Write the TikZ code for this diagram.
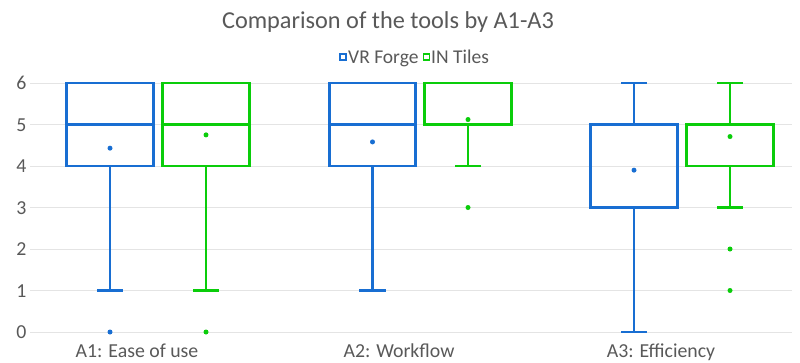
\documentclass[tikz,border=0pt]{standalone}
\usepackage{fontspec}
\setmainfont{Carlito}
\definecolor{vrblue}{RGB}{24,110,210}
\definecolor{ingreen}{RGB}{10,205,10}
\definecolor{gridgray}{RGB}{228,228,228}
\definecolor{txtgray}{RGB}{89,89,89}
\tikzset{
  bx/.style={line width=2.7pt, line cap=rect},
  gridline/.style={draw=gridgray, line width=1pt},
  ticklab/.style={anchor=base east, text=txtgray, font=\fontsize{19.8}{21}\selectfont, inner sep=0pt, yshift=-6.5pt},
  catlab/.style={anchor=base, text=txtgray, font=\fontsize{19.8}{21}\selectfont, inner sep=0pt},
  legtxt/.style={anchor=base west, text=txtgray, font=\fontsize{19.5}{21}\selectfont, inner sep=0pt},
  legsq/.style={draw=#1, fill=white, line width=1.6pt, minimum size=6pt, inner sep=0pt},
}
% center, color, low whisker, q1, median, q3, high whisker, mean
\newcommand\myboxplot[8]{%
  \draw[bx,#2] (#1-43.3,#4) rectangle (#1+43.3,#6);
  \draw[bx,#2] (#1-43.3,#5) -- (#1+43.3,#5);
  \draw[bx,#2] (#1,#4) -- (#1,#3) (#1-11.7,#3) -- (#1+11.7,#3);
  \draw[bx,#2] (#1,#6) -- (#1,#7) (#1-11.7,#7) -- (#1+11.7,#7);
  \fill[#2] (#1,#8) circle (2.5pt);
}
\begin{document}
\begin{tikzpicture}[x=1pt,y=-1pt]
\useasboundingbox (0,0) rectangle (800,362);
\fill[white] (0,0) rectangle (800,362);
\node[anchor=base, text=txtgray, font=\fontsize{24.3}{26}\selectfont, inner sep=0pt] (title) at (388,28.5) {Comparison of the tools by A1-A3};
\node[legsq=vrblue] (lsq1) at (343,57) {};
\node[legtxt] (ltx1) at (348,63) {VR Forge};
\node[legsq=ingreen] (lsq2) at (426.5,57) {};
\node[legtxt] (ltx2) at (431,63) {IN Tiles};
\begin{scope}[shift={(0,332)}, y={(0pt,41.5pt)}]
  \foreach \v in {0,...,6} {
    \draw[gridline] (30,\v) -- (792,\v);
    \node[ticklab] (yl\v) at (26.5,\v) {\v};
  }
  \myboxplot{110}{vrblue}{1}{4}{5}{6}{6}{4.43}
  \myboxplot{206}{ingreen}{1}{4}{5}{6}{6}{4.75}
  \myboxplot{372.5}{vrblue}{1}{4}{5}{6}{6}{4.58}
  \myboxplot{468}{ingreen}{4}{5}{5}{6}{6}{5.12}
  \myboxplot{634}{vrblue}{0}{3}{5}{5}{6}{3.9}
  \myboxplot{730}{ingreen}{3}{4}{4}{5}{6}{4.71}
  \fill[vrblue] (110,0) circle (2.5pt);
  \fill[ingreen] (206,0) circle (2.5pt);
  \fill[ingreen] (468,3) circle (2.5pt);
  \fill[ingreen] (730,2) circle (2.5pt);
  \fill[ingreen] (730,1) circle (2.5pt);
\end{scope}
\node[catlab] (c1) at (137,357) {A1: Ease of use};
\node[catlab] (c2) at (399,357) {A2: Workflow};
\node[catlab] (c3) at (661,357) {A3: Efficiency};
\end{tikzpicture}
\end{document}
